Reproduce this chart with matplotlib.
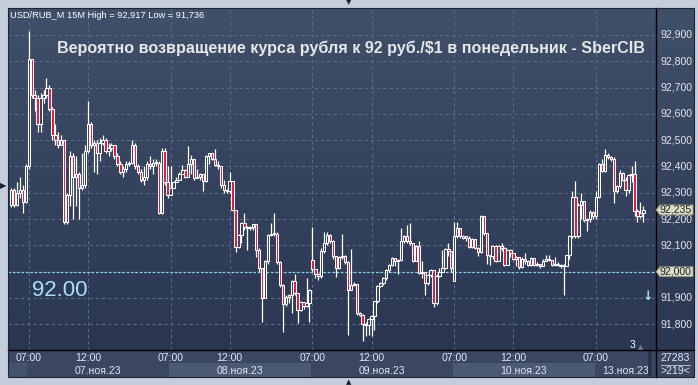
import matplotlib
matplotlib.use("Agg")
import matplotlib.pyplot as plt
import matplotlib.transforms as mtrans
from matplotlib.patches import Rectangle, Polygon
import numpy as np

W, H = 698, 385

# 15-minute candles, USD/RUB_M, 215 bars (last 6 of previous session + 07..13 Nov)
closes = [
    92.31, 92.255, 92.30, 92.31, 92.265, 92.40, 92.81, 92.67, 92.66, 92.56,
    92.66, 92.67, 92.70, 92.62, 92.52, 92.50, 92.48, 92.50, 92.19, 92.29,
    92.44, 92.36, 92.37, 92.32, 92.33, 92.46, 92.56, 92.48, 92.49, 92.45,
    92.49, 92.50, 92.46, 92.47, 92.48, 92.44, 92.41, 92.38, 92.39, 92.41,
    92.415, 92.48, 92.40, 92.38, 92.35, 92.36, 92.41, 92.40, 92.415, 92.415,
    92.225, 92.46, 92.34, 92.29,
    92.32, 92.34, 92.35, 92.37, 92.385, 92.36, 92.41, 92.43, 92.355, 92.36,
    92.37, 92.343, 92.44, 92.45, 92.43, 92.406, 92.40, 92.33, 92.31, 92.305,
    92.343, 92.235, 92.095, 92.14, 92.185, 92.17, 92.165, 92.17, 92.18, 92.083,
    92.013, 91.90, 92.04, 92.14, 92.145, 92.142, 92.038, 91.95, 91.876, 91.905,
    91.91, 91.966, 91.92, 91.855, 91.885, 91.868, 91.88, 91.93,
    92.01, 91.99, 91.985, 92.08, 92.11, 92.14, 92.115, 92.06, 92.013, 92.055,
    92.06, 92.035, 91.93, 91.95, 91.955, 91.842, 91.836, 91.80, 91.798, 91.82,
    91.83, 91.887, 91.944, 91.956, 91.975, 92.007, 92.026, 92.051, 92.039, 92.045,
    92.115, 92.134, 92.115, 92.108, 92.04, 92.098, 91.994, 92.0, 91.956, 91.988,
    92.007, 91.88, 91.985, 92.0, 92.013, 92.085, 92.079, 92.013,
    92.134, 92.165, 92.134, 92.13, 92.13, 92.093, 92.125, 92.089, 92.075, 92.21,
    92.146, 92.064, 92.06, 92.098, 92.04, 92.098, 92.09, 92.026, 92.083, 92.07,
    92.05, 92.057, 92.017, 92.05, 92.04, 92.026, 92.051, 92.026, 92.03, 92.022,
    92.04, 92.05, 92.045, 92.026, 92.03, 92.025, 92.02, 92.023, 92.064, 92.134,
    92.283, 92.134, 92.255, 92.27, 92.197, 92.20, 92.228, 92.21,
    92.283, 92.41, 92.384, 92.445, 92.435, 92.43, 92.308, 92.325, 92.375, 92.35,
    92.31, 92.368, 92.37, 92.23, 92.21, 92.225, 92.235,
]
highs = [
    92.32, 92.32, 92.34, 92.36, 92.33, 92.41, 92.917, 92.80, 92.69, 92.67,
    92.68, 92.69, 92.735, 92.71, 92.625, 92.56, 92.53, 92.52, 92.50, 92.30,
    92.46, 92.45, 92.44, 92.38, 92.45, 92.48, 92.65, 92.57, 92.50, 92.50,
    92.51, 92.52, 92.51, 92.49, 92.49, 92.48, 92.45, 92.42, 92.40, 92.42,
    92.42, 92.50, 92.49, 92.41, 92.39, 92.40, 92.42, 92.44, 92.43, 92.43,
    92.42, 92.47, 92.47, 92.40,
    92.40, 92.345, 92.36, 92.38, 92.405, 92.39, 92.478, 92.445, 92.43, 92.39,
    92.375, 92.37, 92.445, 92.452, 92.45, 92.465, 92.42, 92.40, 92.35, 92.315,
    92.38, 92.345, 92.235, 92.145, 92.19, 92.222, 92.175, 92.175, 92.182, 92.18,
    92.09, 92.01, 92.045, 92.145, 92.184, 92.222, 92.15, 92.04, 91.955, 91.91,
    91.915, 91.97, 91.99, 91.92, 91.89, 91.885, 91.975, 91.935,
    92.17, 92.01, 91.995, 92.09, 92.15, 92.15, 92.145, 92.12, 92.06, 92.06,
    92.145, 92.065, 92.04, 92.085, 91.96, 91.955, 91.845, 91.84, 91.81, 91.825,
    91.835, 91.89, 91.95, 91.96, 91.98, 92.01, 92.03, 92.055, 92.05, 92.05,
    92.165, 92.14, 92.178, 92.184, 92.105, 92.10, 92.115, 92.04, 92.0, 91.99,
    92.01, 92.007, 91.99, 92.013, 92.083, 92.09, 92.108, 92.08,
    92.19, 92.19, 92.165, 92.14, 92.135, 92.135, 92.13, 92.125, 92.095, 92.215,
    92.21, 92.146, 92.065, 92.10, 92.10, 92.10, 92.108, 92.095, 92.085, 92.085,
    92.07, 92.06, 92.05, 92.055, 92.07, 92.045, 92.055, 92.05, 92.035, 92.03,
    92.05, 92.065, 92.064, 92.045, 92.055, 92.035, 92.03, 92.03, 92.065, 92.14,
    92.305, 92.343, 92.26, 92.30, 92.27, 92.205, 92.235, 92.23,
    92.305, 92.415, 92.43, 92.465, 92.45, 92.44, 92.435, 92.33, 92.385, 92.38,
    92.36, 92.37, 92.40, 92.42, 92.24, 92.265, 92.25,
]
lows = [
    92.245, 92.245, 92.25, 92.28, 92.225, 92.26, 92.39, 92.66, 92.61, 92.53,
    92.53, 92.64, 92.66, 92.61, 92.50, 92.48, 92.47, 92.48, 92.18, 92.18,
    92.25, 92.20, 92.25, 92.20, 92.31, 92.32, 92.45, 92.47, 92.38, 92.37,
    92.42, 92.48, 92.45, 92.44, 92.46, 92.43, 92.40, 92.37, 92.36, 92.38,
    92.40, 92.41, 92.39, 92.37, 92.34, 92.33, 92.35, 92.39, 92.37, 92.40,
    92.22, 92.22, 92.33, 92.28,
    92.29, 92.32, 92.34, 92.35, 92.37, 92.355, 92.36, 92.37, 92.35, 92.355,
    92.35, 92.305, 92.34, 92.41, 92.425, 92.40, 92.39, 92.32, 92.30, 92.30,
    92.30, 92.23, 92.075, 92.09, 92.108, 92.16, 92.083, 92.16, 92.16, 92.057,
    92.0, 91.81, 91.90, 92.03, 92.135, 92.135, 92.03, 91.94, 91.772, 91.87,
    91.88, 91.842, 91.91, 91.806, 91.85, 91.86, 91.865, 91.81,
    92.0, 91.975, 91.97, 91.975, 92.07, 92.10, 92.11, 92.05, 91.98, 92.01,
    92.05, 92.03, 91.76, 91.93, 91.945, 91.835, 91.83, 91.736, 91.754, 91.76,
    91.754, 91.78, 91.88, 91.94, 91.95, 91.97, 92.0, 92.02, 92.02, 91.992,
    92.04, 92.11, 92.11, 92.10, 92.035, 92.04, 91.99, 91.975, 91.912, 91.95,
    91.98, 91.867, 91.875, 91.98, 92.0, 92.01, 92.06, 92.0,
    91.963, 92.13, 92.13, 92.125, 92.115, 92.09, 92.09, 92.085, 92.06, 92.07,
    92.14, 92.03, 92.026, 92.05, 92.035, 92.04, 92.08, 92.02, 92.026, 92.055,
    92.045, 92.022, 92.01, 92.015, 92.03, 92.02, 92.02, 92.02, 92.02, 92.015,
    92.02, 92.04, 92.04, 92.02, 92.02, 92.02, 92.015, 91.912, 92.02, 92.05,
    92.13, 92.13, 92.13, 92.20, 92.19, 92.153, 92.19, 92.20,
    92.20, 92.28, 92.38, 92.38, 92.43, 92.42, 92.26, 92.30, 92.32, 92.345,
    92.286, 92.30, 92.34, 92.21, 92.19, 92.205, 92.19,
]
first_open = 92.255
gap_opens = {102: 92.045, 150: 91.963}

day_labels = ["07.ноя.23", "08.ноя.23", "09.ноя.23", "10.ноя.23", "13.ноя.23"]
day_start = [6, 54, 102, 150, 198]     # bar index of 07:00 each day
bars_per_day = 48
noon_offset = 20                        # 12:00 is 20 bars after 07:00
price_ticks = [91.8, 91.9, 92.0, 92.1, 92.2, 92.3, 92.4, 92.5, 92.6, 92.7, 92.8, 92.9]
level = 92.0
last_price = 92.235

title = "Вероятно возвращение курса рубля к 92 руб./$1 в понедельник - SberCIB"
header = "USD/RUB_M 15M High = 92,917 Low = 91,736"

opens = [first_open] + closes[:-1]
for k, v in gap_opens.items():
    opens[k] = v

# colours
outer = "#c4cdd9"
top_col = np.array([0x40, 0x4f, 0x6a]) / 255
bot_col = np.array([0x2b, 0x37, 0x52]) / 255
axis_band = "#3b4762"
light_band = "#4c5975"
grid_col = "#5d6c87"
red = "#e8163a"
txt = "#dfe5ee"

fig = plt.figure(figsize=(W / 100, H / 100), dpi=100, facecolor=outer)

# pixel overlay for backgrounds
ov = fig.add_axes([0, 0, 1, 1], zorder=0)
ov.set_xlim(0, W)
ov.set_ylim(H, 0)
ov.axis("off")
grad = np.linspace(0, 1, 256)[:, None, None] * (bot_col - top_col) + top_col
grad = np.repeat(grad, 2, axis=1)
ov.imshow(grad, extent=(8, 694, 350, 8), aspect="auto", interpolation="bilinear")
ov.add_patch(Rectangle((8, 350), 686, 27, color=axis_band, lw=0))

# main candle axes
ax = fig.add_axes([8 / W, (H - 350) / H, 647 / W, 342 / H], zorder=1)
ax.patch.set_alpha(0)
ax.set_axis_off()
step = 2.955
xmin, xmax = (8 - 11) / step, (655 - 11) / step
ax.set_xlim(xmin, xmax)
ax.set_ylim(92.9 - 315 / 263, 92.9 + 27 / 263)

# grid
for p in price_ticks:
    ax.axhline(p, color=grid_col, lw=0.75, ls=(0, (3, 3)), zorder=0.5)
time_ticks = []
for d in day_start:
    time_ticks += [t for t in (d, d + noon_offset) if t < xmax]
for t in time_ticks:
    ax.axvline(t, color=grid_col, lw=0.75, ls=(0, (3, 3)), zorder=0.5)
ax.axhline(level, color="#86d3ea", lw=0.9, ls=(0, (2, 1.5)), zorder=0.6)

# candles
o = np.array(opens)
c = np.array(closes)
hi = np.array(highs)
lo = np.array(lows)
idx = np.arange(len(c))
top = np.maximum(o, c)
bot = np.minimum(o, c)
ax.vlines(idx, top, hi, color="white", lw=0.9, zorder=2)
ax.vlines(idx, lo, bot, color="white", lw=0.9, zorder=2)
bear = c < o
ax.bar(idx[bear], np.maximum(top - bot, 0.004)[bear], bottom=bot[bear], width=0.8,
       color=red, edgecolor="white", lw=0.75, zorder=3)
ax.bar(idx[~bear], np.maximum(top - bot, 0.004)[~bear], bottom=bot[~bear], width=0.8,
       color=tuple(bot_col * 0.4 + top_col * 0.6), edgecolor="white", lw=0.75, zorder=3)

# right price axis labels
rt = mtrans.blended_transform_factory(ax.transAxes, ax.transData)
for p in price_ticks:
    if abs(p - level) < 1e-6:
        continue
    ax.text(1.008, p, f"{p:.3f}".replace(".", ","), transform=rt, color=txt,
            fontsize=7.6, family="Liberation Sans", va="center", ha="left", clip_on=False)

# bottom time axis
bt = mtrans.blended_transform_factory(ax.transData, ax.transAxes)
band_top = -13 / 342
band_h = 14 / 342
ax.add_patch(Rectangle((xmin, band_top - band_h), day_start[0] - 0.5 - xmin, band_h,
                       transform=bt, color="#45526d", lw=0, clip_on=False))
for k, d in enumerate(day_start):
    x0 = d - 0.5
    x1 = min(d + bars_per_day - 0.5, xmax - 2.5)
    if k % 2 == 1:
        ax.add_patch(Rectangle((x0, band_top - band_h), x1 - x0, band_h, transform=bt,
                               color=light_band, lw=0, clip_on=False))
for t in time_ticks:
    lab = "07:00" if (t - day_start[0]) % bars_per_day == 0 else "12:00"
    ax.text(t, -0.022, lab, transform=bt, color=txt, fontsize=7.6, family="Liberation Sans",
            ha="center", va="center", clip_on=False)
for k, d in enumerate(day_start):
    xc = d + bars_per_day / 2 - 0.5 if k < len(day_start) - 1 else d + 10
    ax.text(xc, -0.06, day_labels[k], transform=bt, color=txt, fontsize=7.6,
            family="Liberation Sans", ha="center", va="center", clip_on=False)

# frame lines and overlays
ov2 = fig.add_axes([0, 0, 1, 1], zorder=4)
ov2.set_xlim(0, W)
ov2.set_ylim(H, 0)
ov2.axis("off")
ov2.plot([8, 694], [350, 350], color="black", lw=1)
ov2.plot([655.5, 655.5], [8, 377], color="black", lw=1)
ov2.plot([8, 694, 694, 8, 8], [8, 8, 377, 377, 8], color="#1e2636", lw=0.8)
ov2.add_patch(Rectangle((648, 351), 4, 25, color="#2a3347", lw=0))
ov2.plot([661, 690], [365, 365], color="#c8d0dc", lw=0.6)
ov2.text(675, 358, "27283", color=txt, fontsize=7.6, family="Liberation Sans", ha="center", va="center")
ov2.text(675, 371, ">219<", color=txt, fontsize=7.6, family="Liberation Sans", ha="center", va="center")

# price marker boxes (last price and 92.000 level)
for p, lab in [(last_price, "92,235"), (level, "92,000")]:
    yp = H - ax.transData.transform((0, p))[1]
    ov2.add_patch(Polygon([(656, yp), (660, yp - 5), (693, yp - 5), (693, yp + 5), (660, yp + 5)],
                          closed=True, fc="#dcdabf", ec="#8a8a78", lw=0.6, zorder=5))
    ov2.text(660, yp, lab, color="#1d2433", fontsize=7.6, family="Liberation Sans",
             ha="left", va="center", zorder=6)

# texts
ov2.text(10, 15, header, color="white", fontsize=6.7, family="Liberation Sans", ha="left", va="center")
ov2.text(57, 48, title, color="#e6e6e6", fontsize=11.6, family="Liberation Sans",
         fontweight="bold", ha="left", va="center")
ov2.text(32, 290, "92.00", color="#a6e0f5", fontsize=16, family="Liberation Sans",
         ha="left", va="center")
ov2.text(648, 296, "↓", color="#a6e0f5", fontsize=9, fontweight="bold", ha="center", va="center")
ov2.text(632, 345, "3", color="white", fontsize=7.4, family="Liberation Sans", ha="center", va="center")
ov2.text(641, 347, "▲", color="#6b7890", fontsize=5, ha="center", va="center")
ov2.text(3.5, 186, "▶", color="#1a1f2a", fontsize=6, ha="center", va="center")
ov2.text(349, 2.5, "▼", color="#1a1f2a", fontsize=5, ha="center", va="center")
ov2.text(349, 382, "▲", color="#1a1f2a", fontsize=5, ha="center", va="center")

fig.savefig("out.png", dpi=100, facecolor=outer)
